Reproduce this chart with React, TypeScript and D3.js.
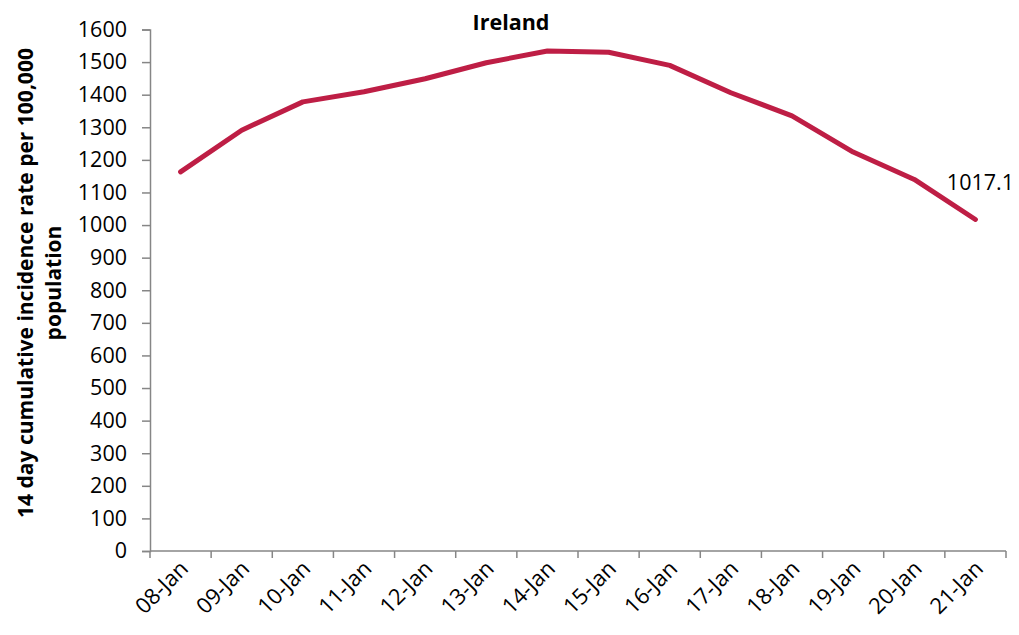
import { useRef, useEffect } from "react";
import * as d3 from "d3";

const dates = ["08-Jan", "09-Jan", "10-Jan", "11-Jan", "12-Jan", "13-Jan", "14-Jan", "15-Jan", "16-Jan", "17-Jan", "18-Jan", "19-Jan", "20-Jan", "21-Jan"];
const rates = [1163, 1291, 1378, 1409, 1449, 1498, 1534, 1530, 1490, 1406, 1335, 1224, 1140, 1017.1];
const yTicks = [0, 100, 200, 300, 400, 500, 600, 700, 800, 900, 1000, 1100, 1200, 1300, 1400, 1500, 1600];

const width = 1019;
const height = 635;
const marginTop = 29.5;
const marginRight = 13;
const marginBottom = 84;
const marginLeft = 150;
const font = "'Open Sans', Lato, sans-serif";

export default function App() {
  const ref = useRef<SVGSVGElement>(null);

  useEffect(() => {
    const svg = d3.select(ref.current);
    svg.selectAll("*").remove();

    const x = d3.scaleBand<string>()
      .domain(dates)
      .range([marginLeft, width - marginRight]);

    const y = d3.scaleLinear()
      .domain([0, 1600])
      .range([height - marginBottom, marginTop]);

    const axisColor = "#868686";

    // y axis
    const yAxis = svg.append("g")
      .attr("transform", `translate(${marginLeft},0)`)
      .call(d3.axisLeft(y).tickValues(yTicks).tickFormat(d3.format("d")).tickSize(8).tickPadding(15));
    yAxis.select(".domain").attr("stroke", axisColor).attr("stroke-width", 1.5);
    yAxis.selectAll(".tick line").attr("stroke", axisColor).attr("stroke-width", 1.5);
    yAxis.selectAll(".tick text")
      .attr("font-family", font)
      .attr("font-size", 21.5)
      .attr("fill", "#000");

    // x axis, ticks at band edges
    const xAxisG = svg.append("g")
      .attr("transform", `translate(0,${height - marginBottom})`);
    xAxisG.append("line")
      .attr("x1", marginLeft).attr("x2", width - marginRight)
      .attr("stroke", axisColor).attr("stroke-width", 1.5);
    const edges = dates.map((d) => x(d)!).concat([x(dates[dates.length - 1])! + x.bandwidth()]);
    xAxisG.selectAll(".edge")
      .data(edges)
      .join("line")
      .attr("x1", (d) => d).attr("x2", (d) => d)
      .attr("y1", 0).attr("y2", 7)
      .attr("stroke", axisColor).attr("stroke-width", 1.5);
    xAxisG.selectAll(".lbl")
      .data(dates)
      .join("text")
      .attr("text-anchor", "end")
      .attr("transform", (d) => `translate(${x(d)! + x.bandwidth() / 2 + 9},${19}) rotate(-45)`)
      .attr("font-family", font)
      .attr("font-size", 22)
      .text((d) => d);

    // line
    const line = d3.line<number>()
      .x((_, i) => x(dates[i])! + x.bandwidth() / 2)
      .y((d) => y(d));

    svg.append("path")
      .datum(rates)
      .attr("d", line)
      .attr("fill", "none")
      .attr("stroke", "#BE1E45")
      .attr("stroke-width", 5)
      .attr("stroke-linejoin", "round")
      .attr("stroke-linecap", "round");

    // last value label
    const last = rates.length - 1;
    svg.append("text")
      .attr("x", x(dates[last])! + x.bandwidth() / 2 + 5)
      .attr("y", y(rates[last]) - 29)
      .attr("text-anchor", "middle")
      .attr("font-family", font)
      .attr("font-size", 21.5)
      .text(rates[last].toFixed(1));

    // title
    svg.append("text")
      .attr("x", 511)
      .attr("y", 30)
      .attr("text-anchor", "middle")
      .attr("font-family", font)
      .attr("font-weight", "bold")
      .attr("font-size", 21.5)
      .text("Ireland");

    // y axis title
    const yTitle = svg.append("text")
      .attr("transform", `translate(33,283) rotate(-90)`)
      .attr("text-anchor", "middle")
      .attr("font-family", font)
      .attr("font-weight", "bold")
      .attr("font-size", 21)
      .text("14 day cumulative incidence rate per 100,000");
    svg.append("text")
      .attr("transform", `translate(61,283) rotate(-90)`)
      .attr("text-anchor", "middle")
      .attr("font-family", font)
      .attr("font-weight", "bold")
      .attr("font-size", 21)
      .text("population");
    void yTitle;
  }, []);

  return (
    <svg
      ref={ref}
      width={width}
      height={height}
      style={{ position: "absolute", left: 0, top: 0, background: "white" }}
    />
  );
}
